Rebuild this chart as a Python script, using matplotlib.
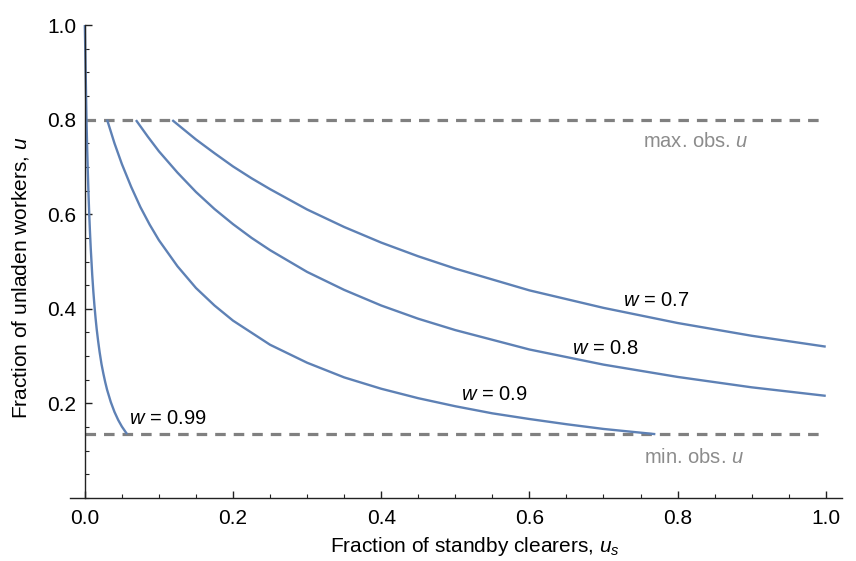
import matplotlib
matplotlib.use("Agg")
from matplotlib import pyplot as plt
from matplotlib.ticker import MultipleLocator, FixedLocator

plt.rcParams['font.family'] = ['Liberation Sans', 'DejaVu Sans']
plt.rcParams['mathtext.fontset'] = 'custom'
plt.rcParams['mathtext.rm'] = 'Liberation Sans'
plt.rcParams['mathtext.it'] = 'Liberation Sans:italic'

# ----------
# values

us_w07 = [0.118, 0.15, 0.175, 0.2, 0.225, 0.25, 0.3, 0.35, 0.4, 0.45, 0.5, 0.6, 0.7, 0.8, 0.9, 1.0]
u_w07 = [0.799, 0.758, 0.729, 0.701, 0.676, 0.653, 0.610, 0.573, 0.540, 0.511, 0.485, 0.439, 0.402, 0.370, 0.343, 0.320]

us_w08 = [0.069, 0.085, 0.1, 0.125, 0.15, 0.175, 0.2, 0.225, 0.25, 0.3, 0.35, 0.4, 0.45, 0.5, 0.6, 0.7, 0.8, 0.9, 1.0]
u_w08 = [0.799, 0.764, 0.733, 0.688, 0.647, 0.611, 0.579, 0.550, 0.524, 0.478, 0.440, 0.407, 0.379, 0.355, 0.314, 0.282, 0.256, 0.234, 0.216]

us_w09 = [0.03, 0.04, 0.05, 0.0625, 0.075, 0.0875, 0.1, 0.125, 0.15, 0.175, 0.2, 0.25, 0.3, 0.35, 0.4, 0.45, 0.5, 0.55, 0.6, 0.65, 0.7, 0.77]
u_w09 = [0.800, 0.750, 0.706, 0.658, 0.615, 0.578, 0.545, 0.490, 0.444, 0.407, 0.375, 0.324, 0.286, 0.255, 0.231, 0.211, 0.194, 0.179, 0.167, 0.156, 0.146, 0.135]

us_w099 = [0.0, 0.0022, 0.003, 0.004, 0.005, 0.006, 0.007, 0.008, 0.01, 0.0115, 0.013, 0.0145, 0.016, 0.018, 0.02, 0.0225, 0.025, 0.0275, 0.03, 0.035, 0.04, 0.045, 0.05, 0.057]
u_w099 = [1.0, 0.802, 0.748, 0.690, 0.640, 0.597, 0.560, 0.527, 0.471, 0.436, 0.406, 0.380, 0.357, 0.331, 0.308, 0.283, 0.263, 0.245, 0.229, 0.203, 0.182, 0.165, 0.151, 0.135]

max_obs_u = 0.8
min_obs_u = 0.135

curve_labels = ["0.7", "0.8", "0.9", "0.99"]
label_x = [0.771, 0.702, 0.552, 0.112]
label_y = [0.417, 0.317, 0.218, 0.168]

# ----------
# figure

fig = plt.figure(figsize=(8.56, 5.61), dpi=100)
ax = fig.add_axes([0.0818, 0.1123, 0.9019, 0.8431])

blue = '#5E81B5'
grey = '#808080'

ax.plot([0, 1], [max_obs_u, max_obs_u], color=grey, lw=2.3, dashes=(3.3, 2.5))
ax.plot([0, 1], [min_obs_u, min_obs_u], color=grey, lw=2.3, dashes=(3.3, 2.5))

for xs, ys in [(us_w07, u_w07), (us_w08, u_w08), (us_w09, u_w09), (us_w099, u_w099)]:
    ax.plot(xs, ys, color=blue, lw=1.7, solid_capstyle='butt', solid_joinstyle='round')

for lab, lx, ly in zip(curve_labels, label_x, label_y):
    ax.text(lx, ly, r"$w$ = " + lab, fontsize=14.5, ha='center', va='center')

ax.text(0.825, 0.753, r"max. obs. $u$", fontsize=14.5, color='#8c8c8c', ha='center', va='center')
ax.text(0.822, 0.086, r"min. obs. $u$", fontsize=14.5, color='#8c8c8c', ha='center', va='center')

ax.set_xlim(-0.02, 1.022)
ax.set_ylim(0, 1.0)

for s in ['top', 'right']:
    ax.spines[s].set_visible(False)
ax.spines['left'].set_position(('data', 0))
ax.spines['bottom'].set_position(('data', 0))
ax.spines['left'].set_bounds(0, 1.0)
for s in ['left', 'bottom']:
    ax.spines[s].set_color('#222222')
    ax.spines[s].set_linewidth(1.0)

ax.xaxis.set_major_locator(FixedLocator([0.0, 0.2, 0.4, 0.6, 0.8, 1.0]))
ax.xaxis.set_minor_locator(MultipleLocator(0.05))
ax.yaxis.set_major_locator(FixedLocator([0.2, 0.4, 0.6, 0.8, 1.0]))
ax.yaxis.set_minor_locator(MultipleLocator(0.05))
ax.xaxis.set_major_formatter(lambda v, p: "%.1f" % v)
ax.yaxis.set_major_formatter(lambda v, p: "%.1f" % v)

ax.tick_params(which='major', direction='in', length=5, width=1, color='#222222', labelsize=15)
ax.tick_params(which='minor', direction='in', length=3, width=0.8, color='#222222')
ax.tick_params(axis='x', which='major', pad=8)
ax.tick_params(axis='y', which='major', pad=6)

ax.set_xlabel(r"Fraction of standby clearers, $u_s$", fontsize=15)
ax.xaxis.label.set_va('baseline')
ax.xaxis.set_label_coords(0.525, -0.114)
ax.set_ylabel(r"Fraction of unladen workers, $u$", fontsize=15)
ax.yaxis.label.set_va('center')
ax.yaxis.set_label_coords(-0.064, 0.465)

fig.savefig("out.png", dpi=100)
